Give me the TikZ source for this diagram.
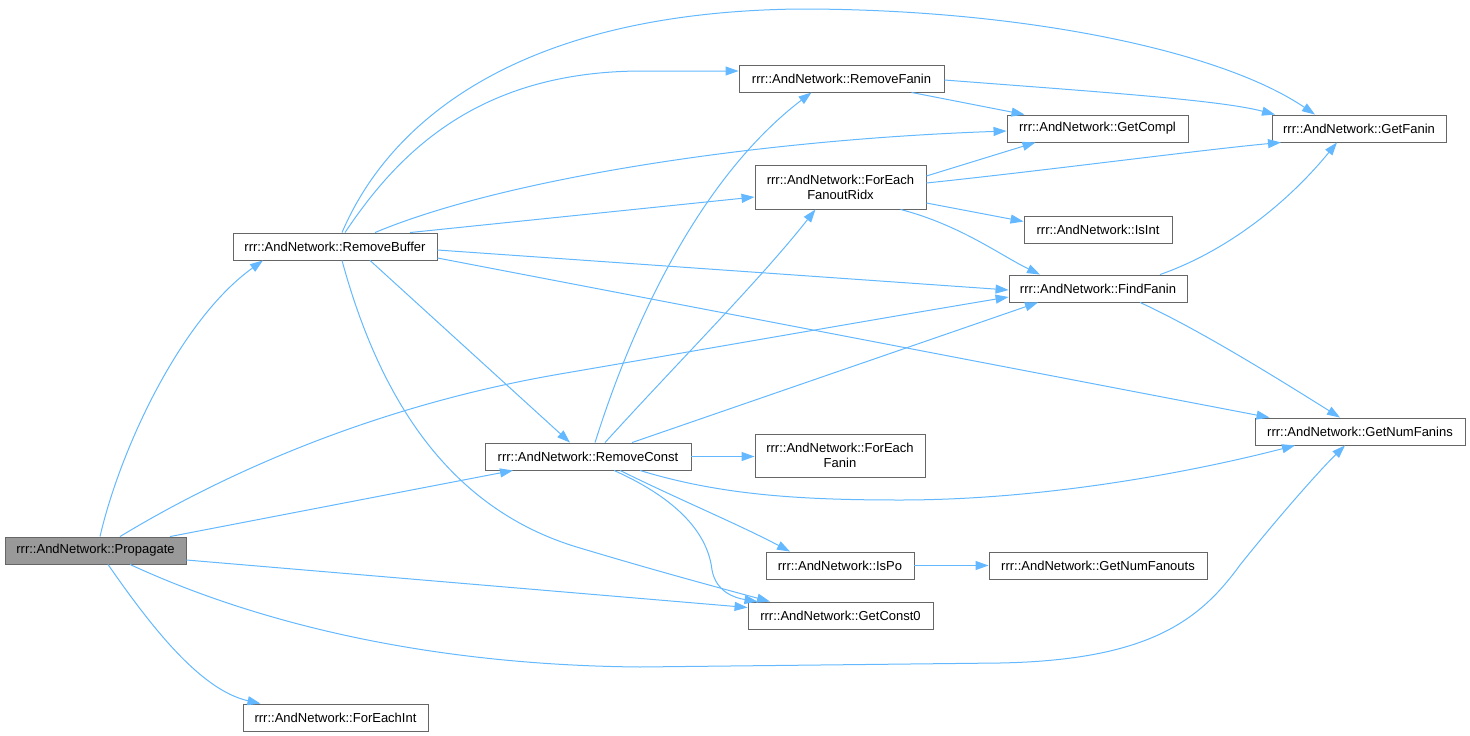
\documentclass[tikz,border=0pt]{standalone}
\usepackage{fontspec}
\setmainfont{Liberation Sans}
\usetikzlibrary{arrows.meta}
\definecolor{edgec}{HTML}{63B8FF}
\definecolor{boxc}{HTML}{666666}
\definecolor{propc}{HTML}{999999}
\begin{document}
\begin{tikzpicture}[x=1pt,y=-1pt,
  fn/.style={draw=boxc, line width=0.9pt, fill=white, inner sep=0pt,
    font=\fontsize{13}{15}\selectfont, align=center},
  edge/.style={draw=edgec, line width=1pt, -{Triangle[length=13pt,width=9pt]}}]
\useasboundingbox (0,0) rectangle (1470,736);

\node[fn, fill=propc, minimum width=181pt, minimum height=27pt] (prop) at (95.5,550.5) {rrr::AndNetwork::Propagate};
\node[fn, minimum width=204pt, minimum height=27pt] (rb) at (335,246.5) {rrr::AndNetwork::RemoveBuffer};
\node[fn, minimum width=205pt, minimum height=27pt] (rf) at (841.5,78.5) {rrr::AndNetwork::RemoveFanin};
\node[fn, minimum width=181pt, minimum height=27pt] (gc) at (1097.5,128.5) {rrr::AndNetwork::GetCompl};
\node[fn, minimum width=174pt, minimum height=27pt] (gf) at (1359,128.5) {rrr::AndNetwork::GetFanin};
\node[fn, minimum width=171pt, minimum height=44pt] (fe) at (840.5,187) {rrr::AndNetwork::ForEach\\FanoutRidx};
\node[fn, minimum width=148pt, minimum height=27pt] (ii) at (1098,229.5) {rrr::AndNetwork::IsInt};
\node[fn, minimum width=178pt, minimum height=27pt] (ff) at (1098,288.5) {rrr::AndNetwork::FindFanin};
\node[fn, minimum width=210pt, minimum height=27pt] (gnf) at (1360,431.5) {rrr::AndNetwork::GetNumFanins};
\node[fn, minimum width=206pt, minimum height=27pt] (rc) at (588,456.5) {rrr::AndNetwork::RemoveConst};
\node[fn, minimum width=170pt, minimum height=43pt] (fef) at (840,455.5) {rrr::AndNetwork::ForEach\\Fanin};
\node[fn, minimum width=148pt, minimum height=27pt] (ip) at (840,565.5) {rrr::AndNetwork::IsPo};
\node[fn, minimum width=218pt, minimum height=27pt] (gno) at (1098,565.5) {rrr::AndNetwork::GetNumFanouts};
\node[fn, minimum width=185pt, minimum height=27pt] (g0) at (840.5,615.5) {rrr::AndNetwork::GetConst0};
\node[fn, minimum width=185pt, minimum height=27pt] (fei) at (335.5,717.5) {rrr::AndNetwork::ForEachInt};

% Propagate
\draw[edge] ([xshift=4.5pt]prop.north) .. controls (120,450) and (180,320) .. ([xshift=-72pt]rb.south);
\draw[edge] ([xshift=24.5pt]prop.north) .. controls (230,470) and (380,405) .. (560,374)
  .. controls (700,350) and (900,315) .. ([yshift=-8.5pt]ff.west);
\draw[edge] ([xshift=74.5pt]prop.north) -- ([xshift=-75pt]rc.south);
\draw[edge] ([yshift=-9.5pt]prop.east) -- ([yshift=8pt]g0.west);
\draw[edge] ([xshift=34.5pt]prop.south) .. controls (250,620) and (420,665) .. (640,667)
  -- (1000,663) .. controls (1150,660) and (1200,620) .. (1240,565)
  .. controls (1280,515) and (1320,470) .. ([xshift=-15pt]gnf.south);
\draw[edge] ([xshift=12.5pt]prop.south) .. controls (150,625) and (200,690) .. ([xshift=-75pt]fei.north);

% RemoveBuffer
\draw[edge] ([xshift=7pt]rb.north) .. controls (390,120) and (520,12) .. (800,9)
  .. controls (1020,9) and (1220,50) .. ([xshift=-44pt]gf.north);
\draw[edge] ([xshift=10pt]rb.north) .. controls (400,150) and (480,72) .. (640,71) -- ([yshift=7.5pt]rf.west);
\draw[edge] ([xshift=40pt]rb.north) .. controls (500,180) and (750,140) .. ([yshift=-2.5pt]gc.west);
\draw[edge] ([xshift=75pt]rb.north) -- ([yshift=-10pt]fe.west);
\draw[edge] ([yshift=-3.5pt]rb.east) -- ([yshift=-1.5pt]ff.west);
\draw[edge] ([yshift=-11.5pt]rb.east) -- ([xshift=15pt]gnf.north west);
\draw[edge] ([xshift=35pt]rb.south) -- ([xshift=-18pt]rc.north);
\draw[edge] ([xshift=7pt]rb.south) .. controls (380,400) and (450,510) .. (580,548)
  .. controls (660,572) and (720,588) .. ([xshift=-70.5pt]g0.north);

% RemoveFanin
\draw[edge] ([xshift=70pt]rf.south) -- ([xshift=-73pt]gc.north);
\draw[edge] ([yshift=-1.5pt]rf.east) .. controls (1100,92) and (1220,100) .. ([xshift=-84pt]gf.north);

% ForEachFanoutRidx
\draw[edge] ([yshift=11pt]fe.east) -- ([xshift=-62pt]gc.south);
\draw[edge] ([yshift=4pt]fe.east) .. controls (1050,170) and (1200,150) .. ([xshift=-78pt]gf.south);
\draw[edge] ([yshift=-16pt]fe.east) -- ([yshift=8pt]ii.west);
\draw[edge] ([xshift=60pt]fe.south) .. controls (960,225) and (1000,255) .. ([xshift=-58pt]ff.north);

% FindFanin
\draw[edge] ([xshift=62pt]ff.north) .. controls (1230,250) and (1290,200) .. ([xshift=-22pt]gf.south);
\draw[edge] ([xshift=42pt]ff.south) .. controls (1200,330) and (1280,380) .. ([xshift=-20pt]gnf.north);

% RemoveConst
\draw[edge] ([xshift=7pt]rc.north) .. controls (640,300) and (710,170) .. ([xshift=-30pt]rf.south);
\draw[edge] ([xshift=17pt]rc.north) .. controls (680,360) and (760,280) .. ([xshift=-25pt]fe.south);
\draw[edge] ([xshift=44pt]rc.north) -- ([xshift=-60pt]ff.south);
\draw[edge] (rc.east) -- (rc.east -| fef.west);
\draw[edge] ([xshift=52pt]rc.south) .. controls (720,495) and (800,500) .. (900,500)
  .. controls (1050,500) and (1200,470) .. ([xshift=-65pt]gnf.south);
\draw[edge] ([xshift=32pt]rc.south) .. controls (680,500) and (740,525) .. ([xshift=-50pt]ip.north);
\draw[edge] ([xshift=26pt]rc.south) .. controls (680,500) and (708,535) .. (712,570)
  .. controls (716,592) and (735,598) .. ([xshift=-83pt]g0.north);

% IsPo
\draw[edge] (ip.east) -- (gno.west);
\end{tikzpicture}
\end{document}
